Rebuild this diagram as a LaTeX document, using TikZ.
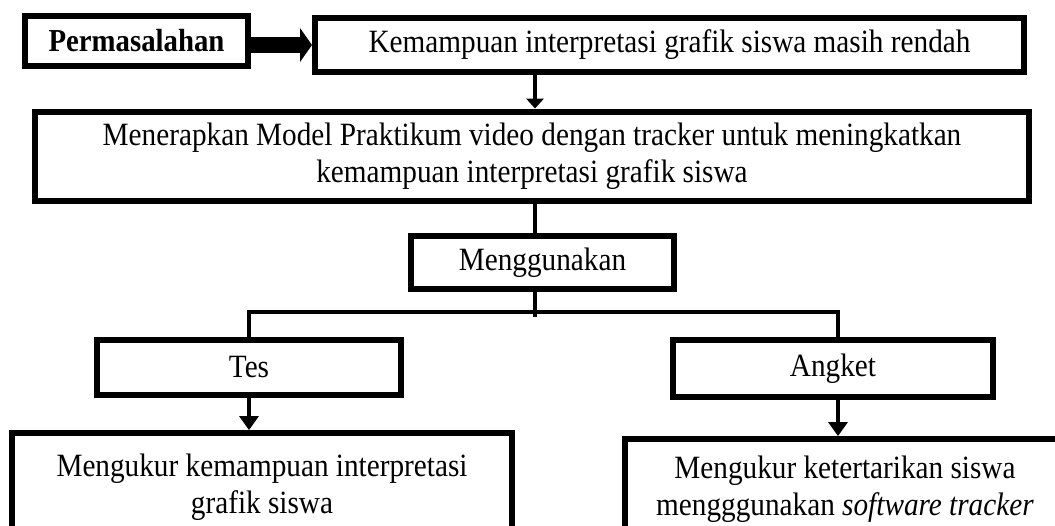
\documentclass[tikz,border=0pt]{standalone}
\usepackage{fontspec}
\setmainfont[FakeStretch=0.9]{Liberation Serif}
\usetikzlibrary{arrows.meta,calc}
\begin{document}
\begin{tikzpicture}[x=1pt,y=-1pt,
  box/.style={draw, line width=6pt, inner sep=0pt, align=center,
    font=\fontsize{32.5}{37}\selectfont},
  conn/.style={line width=4pt, line join=miter},
  arr/.style={line width=4pt, -{Triangle[length=14pt,width=20pt,line width=0pt]}},
  arrsmall/.style={line width=4pt, -{Triangle[length=10pt,width=18pt,line width=0pt]}},
  bigarr/.style={line width=16pt, -{Triangle[length=12pt,width=34pt,line width=0pt]}}]
\path[use as bounding box, clip] (0,0) rectangle (1055,525);
\fill[white] (0,0) rectangle (1055,525);
% boxes
\node[box, minimum width=223pt, minimum height=50pt,
  font=\fontsize{32}{36}\selectfont\bfseries] (perm) at (136.5,41) {Permasalahan};
\node[box, minimum width=709pt, minimum height=54pt] (kem) at (669.5,45)
  {Kemampuan interpretasi grafik siswa masih rendah};
\node[box, minimum width=994pt, minimum height=89pt] (men) at (532,156)
  {Menerapkan Model Praktikum video dengan tracker untuk meningkatkan\\kemampuan interpretasi grafik siswa};
\node[box, minimum width=263pt, minimum height=53pt] (meng) at (542.5,262.5) {Menggunakan};
\node[box, minimum width=304pt, minimum height=55pt] (tes) at (249,367.5) {Tes};
\node[box, minimum width=320pt, minimum height=57pt] (ang) at (833,368.5) {Angket};
\node[box, anchor=north, minimum width=500pt, inner ysep=21pt] (bl) at (262,430)
  {Mengukur kemampuan interpretasi\\grafik siswa};
\node[box, anchor=north, minimum width=440pt, inner ysep=17pt] (br) at (845,436)
  {Mengukur ketertarikan siswa\\mengggunakan \textit{software tracker}};
% helper coordinates
\coordinate (ay) at (0,45);
\coordinate (sp) at (535,0);
\coordinate (hl) at (0,312);
\coordinate (lx) at (249,0);
\coordinate (rx) at (838,0);
% connectors
\draw[bigarr] (perm.east |- ay) -- (kem.west |- ay);
\draw[arrsmall] (kem.south -| sp) -- (men.north -| sp);
\draw[conn] (men.south -| sp) -- (meng.north -| sp);
\draw[conn] (meng.south -| sp) -- ($(hl -| sp)+(0,5)$);
\draw[conn] (tes.north -| lx) -- (hl -| lx) -- (hl -| rx) -- (ang.north -| rx);
\draw[arr] (tes.south -| lx) -- (bl.north -| lx);
\draw[arr] (ang.south -| rx) -- (br.north -| rx);
\end{tikzpicture}
\end{document}
